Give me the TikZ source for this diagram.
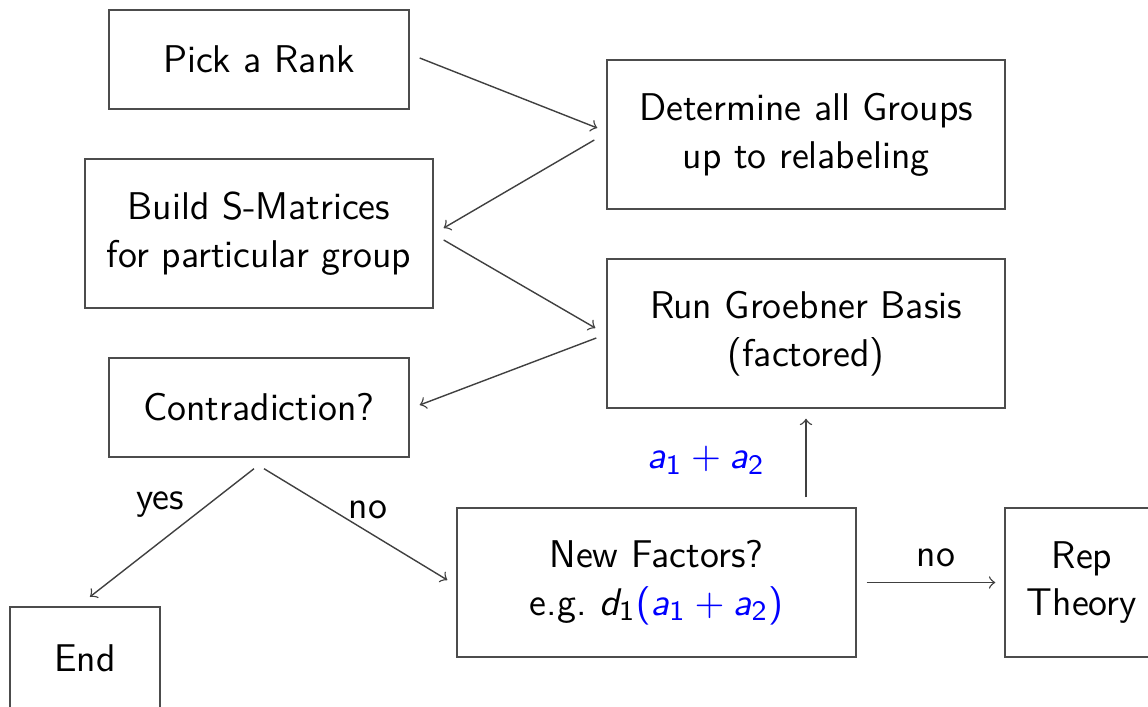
\documentclass[tikz,border=0pt]{standalone}
\usepackage{tikz}
\usetikzlibrary{positioning}
% sans serif math letters, as on a slide
\SetSymbolFont{operators}{normal}{OT1}{cmss}{m}{n}
\DeclareSymbolFont{sfslant}{OT1}{cmss}{m}{sl}
\DeclareMathSymbol{a}{\mathalpha}{sfslant}{`a}
\DeclareMathSymbol{d}{\mathalpha}{sfslant}{`d}

\begin{document}
\begin{tikzpicture}[font=\sffamily\fontsize{11}{13.6}\selectfont,
	stepbox/.style={draw=black!70, align=center, inner sep=0pt},
	flow/.style={->, draw=black!75}]
	\useasboundingbox (0,0) rectangle (11.48,-7.07);
	\node [stepbox, minimum width=3.0cm, minimum height=0.99cm] (rank) at (2.59,-0.595) {Pick a Rank};
	\node [stepbox, minimum width=3.98cm, minimum height=1.49cm] (groups) at (8.06,-1.345) {Determine all Groups\\up to relabeling};
	\node [stepbox, minimum width=3.48cm, minimum height=1.49cm] (smat) at (2.59,-2.335) {Build S-Matrices\\for particular group};
	\node [stepbox, minimum width=3.98cm, minimum height=1.49cm] (groeb) at (8.06,-3.335) {Run Groebner Basis\\(factored)};
	\node [stepbox, minimum width=3.0cm, minimum height=0.99cm] (contra) at (2.59,-4.075) {Contradiction?};
	\node [stepbox, minimum width=1.5cm, minimum height=1.03cm] (end) at (0.85,-6.585) {End};
	\node [stepbox, minimum width=3.99cm, minimum height=1.49cm] (factors) at (6.565,-5.825) {New Factors?\\e.g.\ $d_1\color{blue}(a_1+a_2)$};
	\node [stepbox, minimum width=1.54cm, minimum height=1.49cm] (rep) at (10.82,-5.825) {Rep\\Theory};

	\draw [flow] ([shift={(0.1,0.015)}]rank.east) -- ([shift={(-0.09,0.065)}]groups.west);
	\draw [flow] ([shift={(-0.12,-0.055)}]groups.west) -- ([shift={(0.1,0.055)}]smat.east);
	\draw [flow] ([shift={(0.1,-0.065)}]smat.east) -- ([shift={(-0.11,0.055)}]groeb.west);
	\draw [flow] ([shift={(-0.1,-0.045)}]groeb.west) -- ([shift={(0.1,0.025)}]contra.east);
	\draw [flow] ([shift={(-0.05,-0.11)}]contra.south) -- ([shift={(0.05,0.095)}]end.north);
	\draw [flow] ([shift={(0.05,-0.11)}]contra.south) -- ([shift={(-0.09,0.025)}]factors.west);
	\draw [flow] ([yshift=0.1cm]groeb.south |- factors.north) -- ([yshift=-0.1cm]groeb.south);
	\draw [flow] ([xshift=0.1cm]factors.east) -- ([xshift=-0.09cm]rep.west);

	\node (yes) at (1.60,-5.05) {yes};
	\node (nofac) at (3.68,-5.10) {no};
	\node (newfac) at (7.06,-4.60) {$\color{blue}a_1+a_2$};
	\node (norep) at (9.36,-5.58) {no};
\end{tikzpicture}
\end{document}
